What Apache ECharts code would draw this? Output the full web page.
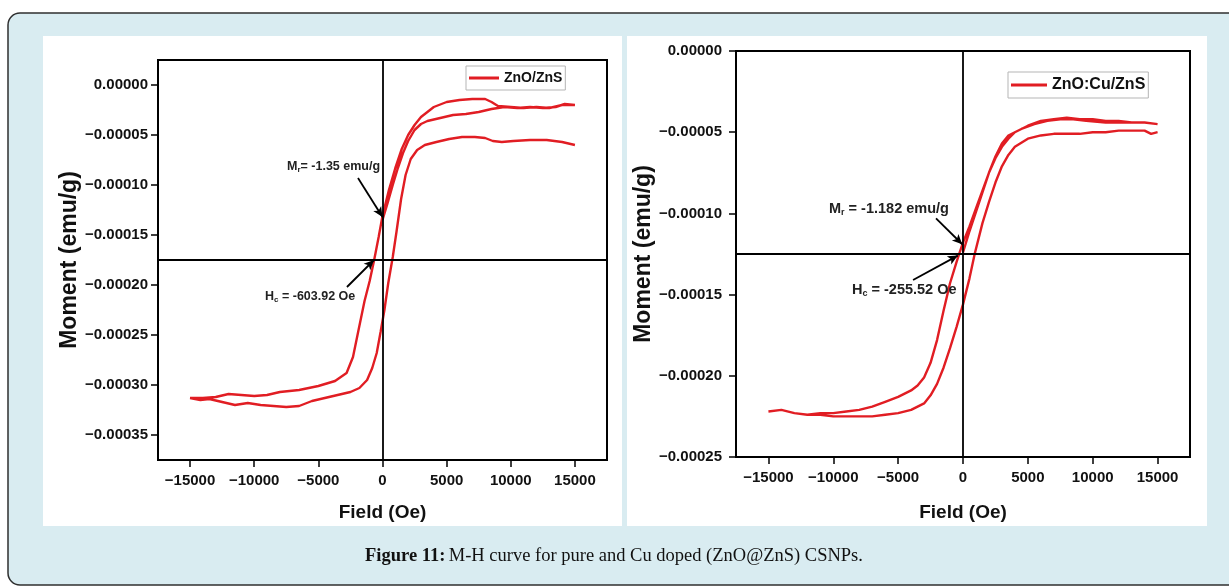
<!DOCTYPE html>
<html>
<head>
<meta charset="utf-8">
<title>M-H curve</title>
<script src="https://cdn.jsdelivr.net/npm/echarts@6/dist/echarts.min.js"></script>
<style>
  html, body { margin: 0; padding: 0; background: #fff; }
  #chart { width: 1229px; height: 587px; }
</style>
</head>
<body>
<div id="chart"></div>
<script>
// tick labels
const xTicks = [-15000, -10000, -5000, 0, 5000, 10000, 15000];
const leftYTicks = [0, -0.00005, -0.0001, -0.00015, -0.0002, -0.00025, -0.0003, -0.00035];
const rightYTicks = [0, -0.00005, -0.0001, -0.00015, -0.0002, -0.00025];

// ZnO/ZnS : field (Oe), moment (emu/g)
const znsVirgin = [
  [0, -0.000135], [400, -0.000118], [800, -0.0001], [1200, -0.000083], [1600, -0.000068],
  [2000, -0.000056], [2500, -0.000045], [3000, -0.000039], [3500, -0.000036], [4500, -0.000033],
  [5500, -0.00003], [6500, -0.000029], [7500, -0.000027], [8500, -0.000024], [9500, -0.000022],
  [10500, -0.000023], [11500, -0.000022], [12500, -0.000023], [13500, -0.000022], [14200, -0.000019],
  [15000, -0.00002]
];
const znsDown = [
  [15000, -0.000021], [14000, -0.00002], [13000, -0.000023], [12000, -0.000022], [11000, -0.000023],
  [10000, -0.000022], [9000, -0.000021], [8500, -0.000017], [8000, -0.000014], [7000, -0.000014],
  [6000, -0.000015], [5000, -0.000017], [4000, -0.000022], [3000, -0.000032], [2500, -0.00004],
  [2000, -0.00005], [1500, -0.000064], [1000, -0.000083], [500, -0.000105], [0, -0.000131],
  [-300, -0.000152], [-650, -0.000175], [-1000, -0.000196], [-1400, -0.000216], [-1900, -0.000247],
  [-2300, -0.000272], [-2800, -0.000288], [-3700, -0.000296], [-5000, -0.000301], [-6500, -0.000305],
  [-8000, -0.000307], [-9000, -0.00031], [-10000, -0.000311], [-11000, -0.00031], [-12000, -0.000309],
  [-13000, -0.000312], [-14000, -0.000313], [-15000, -0.000313]
];
const znsUp = [
  [-15000, -0.000313], [-14200, -0.000315], [-13500, -0.000314], [-12500, -0.000317], [-11500, -0.00032],
  [-10500, -0.000318], [-9500, -0.00032], [-8500, -0.000321], [-7500, -0.000322], [-6500, -0.000321],
  [-5500, -0.000316], [-4500, -0.000313], [-3500, -0.00031], [-2500, -0.000307], [-1800, -0.000303],
  [-1200, -0.000295], [-800, -0.000283], [-450, -0.000268], [-150, -0.000247], [150, -0.000225],
  [450, -0.000198], [800, -0.000172], [1100, -0.000146], [1450, -0.000114], [1800, -0.00009],
  [2200, -0.000074], [2700, -0.000065], [3300, -0.00006], [4200, -0.000057], [5200, -0.000054],
  [6200, -0.000052], [7200, -0.000052], [8000, -0.000053], [8600, -0.000056], [9300, -0.000057],
  [10200, -0.000056], [11500, -0.000055], [12800, -0.000055], [14000, -0.000057], [15000, -0.00006]
];

// ZnO:Cu/ZnS
const cuVirgin = [
  [0, -0.000124], [500, -0.000111], [1000, -0.000099], [1500, -0.000087], [2000, -0.000075],
  [2500, -0.000065], [3000, -0.000057], [3500, -0.000052], [4500, -0.000048], [5500, -0.000045],
  [6500, -0.000043], [7500, -0.000042], [8500, -0.000042], [9500, -0.000043], [11000, -0.000044],
  [12500, -0.000044], [14000, -0.000044], [15000, -0.000045]
];
const cuDown = [
  [15000, -0.000044], [14000, -0.000044], [13000, -0.000044], [12000, -0.000043], [11000, -0.000043],
  [10000, -0.000042], [9000, -0.000042], [8000, -0.000041], [7000, -0.000042], [6000, -0.000043],
  [5000, -0.000046], [4000, -0.00005], [3500, -0.000054], [3000, -0.000059], [2500, -0.000066],
  [2000, -0.000075], [1500, -0.000086], [1000, -0.000097], [500, -0.000108], [0, -0.000118],
  [-255, -0.000124], [-500, -0.00013], [-1000, -0.000143], [-1500, -0.00016], [-2000, -0.000178],
  [-2500, -0.000192], [-3000, -0.000201], [-3500, -0.000206], [-4000, -0.000209], [-5000, -0.000213],
  [-6000, -0.000216], [-7000, -0.000219], [-8000, -0.000221], [-9000, -0.000222], [-10000, -0.000223],
  [-11000, -0.000223], [-12000, -0.000224], [-13000, -0.000223], [-14000, -0.000221], [-15000, -0.000222]
];
const cuUp = [
  [-15000, -0.000222], [-14000, -0.000221], [-13000, -0.000223], [-12000, -0.000224], [-11000, -0.000224],
  [-10000, -0.000225], [-9000, -0.000225], [-8000, -0.000225], [-7000, -0.000225], [-6000, -0.000224],
  [-5000, -0.000223], [-4000, -0.000221], [-3000, -0.000217], [-2500, -0.000212], [-2000, -0.000205],
  [-1500, -0.000195], [-1000, -0.000183], [-500, -0.00017], [0, -0.000156], [500, -0.00014],
  [900, -0.000125], [1500, -0.000106], [2000, -0.000093], [2500, -0.000081], [3000, -0.000071],
  [3500, -0.000064], [4000, -0.000059], [5000, -0.000054], [6000, -0.000052], [7000, -0.000051],
  [8000, -0.000051], [9000, -0.000051], [10000, -0.00005], [11000, -0.00005], [12000, -0.000049],
  [13000, -0.000049], [14000, -0.000049], [14500, -0.000051], [15000, -0.00005]
];

const FONT = '"Liberation Sans", Arial, sans-serif';
const RED = '#e11d23';
const minus = s => s.replace('-', '\u2212');

function xAxisOf(i, gap) {
  return {
    type: 'value', gridIndex: i, min: -17500, max: 17500,
    axisLine: { show: true, onZero: false, lineStyle: { color: '#000', width: 2 } },
    axisTick: { show: true, length: 7, customValues: xTicks, lineStyle: { color: '#000', width: 1.5 } },
    axisLabel: {
      customValues: xTicks, margin: 13, color: '#111', fontSize: 15, fontWeight: 'bold', fontFamily: FONT,
      formatter: v => minus(String(v))
    },
    splitLine: { show: false },
    name: 'Field (Oe)', nameLocation: 'middle', nameGap: gap,
    nameTextStyle: { color: '#111', fontSize: 19, fontWeight: 'bold', fontFamily: FONT }
  };
}

function yAxisOf(i, min, max, ticks, margin, gap) {
  return {
    type: 'value', gridIndex: i, min: min, max: max,
    axisLine: { show: true, onZero: false, lineStyle: { color: '#000', width: 2 } },
    axisTick: { show: true, length: 7, customValues: ticks, lineStyle: { color: '#000', width: 1.5 } },
    axisLabel: {
      customValues: ticks, margin: margin, color: '#111', fontSize: 15, fontWeight: 'bold', fontFamily: FONT,
      formatter: v => minus(v.toFixed(5))
    },
    splitLine: { show: false },
    name: 'Moment (emu/g)', nameLocation: 'middle', nameGap: gap,
    nameTextStyle: { color: '#111', fontSize: 23, fontWeight: 'bold', fontFamily: FONT }
  };
}

// reference lines through zero field and through the loop centre, plus the arrows
function marks(xr, yr, hLine, arrows) {
  const data = [
    [{ coord: [0, yr[0]] }, { coord: [0, yr[1]] }],
    [{ coord: [xr[0], hLine] }, { coord: [xr[1], hLine] }]
  ];
  arrows.forEach(a => data.push([
    { coord: a[0], symbol: 'none' },
    { coord: a[1], symbol: 'arrow', symbolSize: [7, 10] }
  ]));
  return {
    silent: true, symbol: 'none', animation: false,
    label: { show: false },
    lineStyle: { color: '#000', width: 1.8, type: 'solid' },
    data: data
  };
}

function legendOf(name, left, top, fontSize, itemWidth) {
  return {
    data: [{ name: name, icon: 'rect' }], left: left, top: top, orient: 'horizontal',
    borderColor: '#b5b5b5', borderWidth: 1, borderRadius: 0,
    padding: [5, 3, 5, 3], itemWidth: itemWidth, itemHeight: 3,
    textStyle: { color: '#111', fontSize: fontSize, fontWeight: 'bold', fontFamily: FONT }
  };
}

function note(main, sub, rest, x, y, size) {
  return {
    type: 'text', z: 50, x: x, y: y,
    style: {
      text: '{m|' + main + '}{s|' + sub + '}{m|' + rest + '}',
      verticalAlign: 'middle',
      rich: {
        m: { fontSize: size, fontWeight: 'bold', fontFamily: FONT, fill: '#222', lineHeight: size + 2 },
        s: { fontSize: Math.round(size * 0.62), fontWeight: 'bold', fontFamily: FONT, fill: '#222',
             verticalAlign: 'bottom', lineHeight: size - 2 }
      }
    }
  };
}

const chart = echarts.init(document.getElementById('chart'));
chart.setOption({
  animation: false,
  backgroundColor: '#fff',
  graphic: [
    { type: 'rect', z: -20, shape: { x: 8, y: 13, width: 1240, height: 572, r: 12 },
      style: { fill: '#d9ecf1', stroke: '#2f2f2f', lineWidth: 1.5 } },
    { type: 'rect', z: -10, shape: { x: 43, y: 36, width: 579, height: 490 }, style: { fill: '#fff' } },
    { type: 'rect', z: -10, shape: { x: 627, y: 36, width: 580, height: 490 }, style: { fill: '#fff' } },
    {
      type: 'text', z: 50, x: 614, y: 556,
      style: {
        text: '{b|Figure 11:} {n|M-H curve for pure and Cu doped (ZnO@ZnS) CSNPs.}',
        align: 'center', verticalAlign: 'middle',
        rich: {
          b: { fontSize: 18.5, fontWeight: 'bold', fontFamily: '"Liberation Serif", serif', fill: '#111' },
          n: { fontSize: 18.5, fontFamily: '"Liberation Serif", serif', fill: '#111' }
        }
      }
    },
    note('M', 'r', '= -1.35 emu/g', 287, 167, 12.5),
    note('H', 'c', ' = -603.92 Oe', 265, 297, 12.5),
    note('M', 'r', ' = -1.182 emu/g', 829, 209, 14.5),
    note('H', 'c', ' = -255.52 Oe', 852, 290, 14.5)
  ],
  grid: [
    { left: 158, top: 60, width: 449, height: 400, show: true, backgroundColor: '#fff', borderColor: '#000', borderWidth: 2 },
    { left: 736, top: 51, width: 454, height: 406, show: true, backgroundColor: '#fff', borderColor: '#000', borderWidth: 2 }
  ],
  xAxis: [xAxisOf(0, 43), xAxisOf(1, 46)],
  yAxis: [
    yAxisOf(0, -0.000375, 0.000025, leftYTicks, 10, 76),
    yAxisOf(1, -0.00025, 0, rightYTicks, 14, 79)
  ],
  legend: [
    legendOf('ZnO/ZnS', 466, 66, 14, 30),
    legendOf('ZnO:Cu/ZnS', 1008, 72, 16, 36)
  ],
  series: [
    {
      name: 'ZnO/ZnS', type: 'line', xAxisIndex: 0, yAxisIndex: 0,
      symbol: 'none', color: RED, lineStyle: { width: 2.4, color: RED },
      data: znsVirgin.concat(znsDown, znsUp),
      markLine: marks([-17500, 17500], [0.000025, -0.000375], -0.000175, [
        [[-1911, -0.000093], [0, -0.000132]],
        [[-2770, -0.000202], [-660, -0.000175]]
      ])
    },
    {
      name: 'ZnO:Cu/ZnS', type: 'line', xAxisIndex: 1, yAxisIndex: 1,
      symbol: 'none', color: RED, lineStyle: { width: 2.4, color: RED },
      data: cuVirgin.concat(cuDown, cuUp),
      markLine: marks([-17500, 17500], [0, -0.00025], -0.000125, [
        [[-2080, -0.000103], [-60, -0.000119]],
        [[-3850, -0.000141], [-400, -0.000126]]
      ])
    }
  ]
});
</script>
</body>
</html>
